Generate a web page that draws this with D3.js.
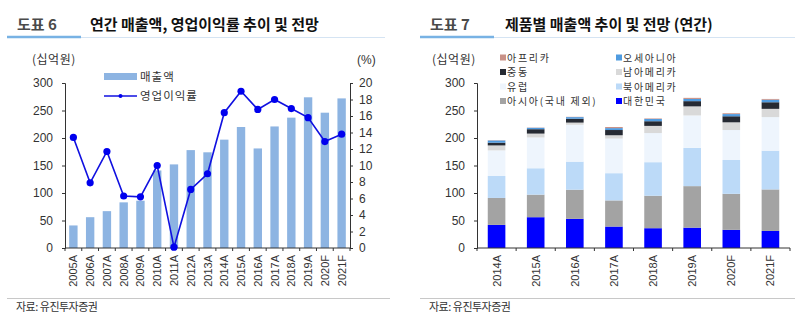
<!DOCTYPE html>
<html>
<head>
<meta charset="utf-8">
<script src="https://cdn.jsdelivr.net/npm/d3@7"></script>
<style>
  body { margin: 0; background: #fff; }
  svg text { font-family: "Liberation Sans", Arial, sans-serif; }
  .kr { font-family: "Noto Sans CJK KR", "Noto Sans", sans-serif; }
</style>
</head>
<body>
<div id="chart"></div>
<script>
// ---------- 도표 6 : 연간 매출액 / 영업이익률 ----------
const years = ["2005A","2006A","2007A","2008A","2009A","2010A","2011A","2012A","2013A",
               "2014A","2015A","2016A","2017A","2018A","2019A","2020F","2021F"];
const sales = [41, 56, 67, 83, 86, 141, 152, 178, 174, 197, 220, 181, 221, 237, 274, 246, 272];
const opMargin = [13.4, 7.9, 11.7, 6.3, 6.2, 10.0, 0.1, 7.1, 9.0, 16.4, 19.0, 16.8, 18.0, 16.9, 15.8, 12.9, 13.8];
const leftTicks = [0, 50, 100, 150, 200, 250, 300];
const rightTicks = [0, 2, 4, 6, 8, 10, 12, 14, 16, 18, 20];

// ---------- 도표 7 : 지역별 매출액 (stack) ----------
const years7 = ["2014A","2015A","2016A","2017A","2018A","2019A","2020F","2021F"];
const regions = ["대한민국","아시아(국내 제외)","북아메리카","유럽","남아메리카","중동","오세아니아","아프리카"];
const korea   = [42, 56, 53, 39, 36, 37, 33, 31];
const asia    = [49, 41, 53, 47.5, 59, 75.5, 65.5, 75.5];
const nAmer   = [40, 48, 51, 49.5, 61, 69.5, 61.5, 70.5];
const europe  = [46.5, 56, 67, 63, 53, 59, 54.5, 61];
const sAmer   = [9, 7, 4, 6, 13, 16.5, 14, 15];
const mideast = [5, 8, 7, 9.5, 8.5, 9.5, 11, 12];
const oceania = [4, 2.5, 3, 3.5, 4, 4, 4, 4.5];
const africa  = [0.5, 0.5, 0.5, 2, 1, 2, 1.5, 1.5];
const regionColors = ["#0000ff","#a3a3a3","#bcdaf8","#eef5fd","#d9d9d9","#262a33","#4f9be0","#c99288"];

const W = 801, H = 325;
const svg = d3.select("#chart").append("svg")
    .attr("width", W).attr("height", H)
    .style("display", "block");
svg.append("rect").attr("width", W).attr("height", H).attr("fill", "#fff");

// 제목 + 밑줄
function header(x0, x1, num, title, titleX) {
    svg.append("text").attr("class", "kr")
        .attr("x", x0 + 10).attr("y", 30)
        .attr("font-size", 15).attr("font-weight", "bold").attr("fill", "#4a4a4a")
        .text(num);
    svg.append("text").attr("class", "kr")
        .attr("x", titleX).attr("y", 30)
        .attr("font-size", 15).attr("font-weight", "bold").attr("fill", "#111")
        .text(title);
    svg.append("line").attr("x1", x0 + 70).attr("x2", x1).attr("y1", 37.5).attr("y2", 37.5)
        .attr("stroke", "#d5e4f3").attr("stroke-width", 1);
    svg.append("line").attr("x1", x0).attr("x2", x0 + 74).attr("y1", 37).attr("y2", 37)
        .attr("stroke", "#78b2e4").attr("stroke-width", 2.5);
}
function footer(x0, x1) {
    svg.append("line").attr("x1", x0).attr("x2", x1).attr("y1", 298.5).attr("y2", 298.5)
        .attr("stroke", "#c8c8c8").attr("stroke-width", 1);
    svg.append("text").attr("class", "kr")
        .attr("x", x0 + 9).attr("y", 311)
        .attr("font-size", 11).attr("fill", "#333").attr("letter-spacing", -0.5)
        .text("자료: 유진투자증권");
}

header(7, 385, "도표 6", "연간 매출액, 영업이익률 추이 및 전망", 90);
header(420, 795, "도표 7", "제품별 매출액 추이 및 전망 (연간)", 505);
footer(7, 390);
footer(420, 795);

// 축 공통 스타일
function styleAxis(g, size) {
    g.select(".domain").attr("stroke", "#333");
    g.selectAll(".tick line").attr("stroke", "#333");
    g.selectAll(".tick text").attr("fill", "#333").attr("font-size", size)
        .attr("font-family", "Liberation Sans, Arial, sans-serif");
}

// x축: 구간 경계에 눈금, 가운데 세로 라벨
function bandXAxis(x, yPos, left, right) {
    const g = svg.append("g");
    g.append("line").attr("x1", left).attr("x2", right).attr("y1", yPos).attr("y2", yPos)
        .attr("stroke", "#333");
    const step = x.step();
    const start = x(x.domain()[0]) - step * x.paddingOuter();
    d3.range(x.domain().length + 1).forEach(i => {
        const px = start + i * step;
        g.append("line").attr("x1", px).attr("x2", px).attr("y1", yPos).attr("y2", yPos + 3)
            .attr("stroke", "#333");
    });
    x.domain().forEach(d => {
        const cx = x(d) + x.bandwidth() / 2;
        g.append("text")
            .attr("transform", `translate(${cx + 4},${yPos + 7}) rotate(-90)`)
            .attr("text-anchor", "end")
            .attr("font-size", 11).attr("fill", "#333")
            .text(d);
    });
}

// ===== 도표 6 =====
{
    const left = 65, right = 350, top = 83, bottom = 248;
    const x = d3.scaleBand().domain(years).range([left, right]).paddingInner(0.5).paddingOuter(0.25);
    const y = d3.scaleLinear().domain([0, 300]).range([bottom, top]);
    const y2 = d3.scaleLinear().domain([0, 20]).range([bottom, top]);

    svg.append("g").selectAll("rect").data(sales).join("rect")
        .attr("x", (d, i) => x(years[i]))
        .attr("y", d => y(d))
        .attr("width", x.bandwidth())
        .attr("height", d => bottom - y(d))
        .attr("fill", "#8db4e2");

    const gl = svg.append("g").attr("transform", `translate(${left},0)`)
        .call(d3.axisLeft(y).tickValues(leftTicks).tickSize(3).tickPadding(9));
    styleAxis(gl, 12);
    const gr = svg.append("g").attr("transform", `translate(${right},0)`)
        .call(d3.axisRight(y2).tickValues(rightTicks).tickSize(3).tickPadding(6));
    styleAxis(gr, 12);
    bandXAxis(x, bottom, left, right);

    const line = d3.line()
        .x((d, i) => x(years[i]) + x.bandwidth() / 2)
        .y(d => y2(d));
    svg.append("path").datum(opMargin)
        .attr("d", line).attr("fill", "none")
        .attr("stroke", "#1010e0").attr("stroke-width", 1.6);
    svg.append("g").selectAll("circle").data(opMargin).join("circle")
        .attr("cx", (d, i) => x(years[i]) + x.bandwidth() / 2)
        .attr("cy", d => y2(d))
        .attr("r", 3.6)
        .attr("fill", "#0000ee");

    svg.append("text").attr("class", "kr").attr("x", 32).attr("y", 64)
        .attr("font-size", 12).attr("fill", "#333").attr("letter-spacing", 0.5).text("(십억원)");
    svg.append("text").attr("x", 357).attr("y", 64)
        .attr("font-size", 12).attr("fill", "#333").text("(%)");

    // 범례
    svg.append("rect").attr("x", 104).attr("y", 73).attr("width", 33).attr("height", 7).attr("fill", "#8db4e2");
    svg.append("text").attr("class", "kr").attr("x", 140).attr("y", 81)
        .attr("font-size", 11.5).attr("fill", "#333").attr("letter-spacing", 1).text("매출액");
    svg.append("line").attr("x1", 104).attr("x2", 137).attr("y1", 96).attr("y2", 96)
        .attr("stroke", "#1010e0").attr("stroke-width", 1.6);
    svg.append("circle").attr("cx", 120.5).attr("cy", 96).attr("r", 2).attr("fill", "#0000ee");
    svg.append("text").attr("class", "kr").attr("x", 140).attr("y", 100)
        .attr("font-size", 11.5).attr("fill", "#333").attr("letter-spacing", 1).text("영업이익률");
}

// ===== 도표 7 =====
{
    const left = 477, right = 790, top = 83, bottom = 248;
    const x = d3.scaleBand().domain(years7).range([left, right]).paddingInner(0.55).paddingOuter(0.275);
    const y = d3.scaleLinear().domain([0, 300]).range([bottom, top]);

    const series = [korea, asia, nAmer, europe, sAmer, mideast, oceania, africa];
    const rows = years7.map((yr, i) => {
        const r = { year: yr };
        regions.forEach((k, j) => { r[k] = series[j][i]; });
        return r;
    });
    const stacked = d3.stack().keys(regions)(rows);

    svg.append("g").selectAll("g").data(stacked).join("g")
        .attr("fill", (d, i) => regionColors[i])
        .selectAll("rect").data(d => d).join("rect")
        .attr("x", d => x(d.data.year))
        .attr("y", d => y(d[1]))
        .attr("width", x.bandwidth())
        .attr("height", d => y(d[0]) - y(d[1]));

    const gl = svg.append("g").attr("transform", `translate(${left},0)`)
        .call(d3.axisLeft(y).tickValues(leftTicks).tickSize(3).tickPadding(9));
    styleAxis(gl, 12);
    bandXAxis(x, bottom, left, right);

    svg.append("text").attr("class", "kr").attr("x", 432).attr("y", 64)
        .attr("font-size", 12).attr("fill", "#333").attr("letter-spacing", 0.5).text("(십억원)");

    // 범례 (2열)
    const legendOrder = [7, 6, 5, 4, 3, 2, 1, 0];
    legendOrder.forEach((ri, k) => {
        const col = k % 2, row = Math.floor(k / 2);
        const lx = col === 0 ? 500 : 616;
        const ly = 57.5 + row * 14.5;
        svg.append("rect").attr("x", lx).attr("y", ly - 3).attr("width", 6).attr("height", 6)
            .attr("fill", regionColors[ri]);
        svg.append("text").attr("class", "kr").attr("x", lx + 7).attr("y", ly + 4)
            .attr("font-size", 10).attr("fill", "#333").attr("letter-spacing", 1.7)
            .text(regions[ri]);
    });
}
</script>
</body>
</html>
